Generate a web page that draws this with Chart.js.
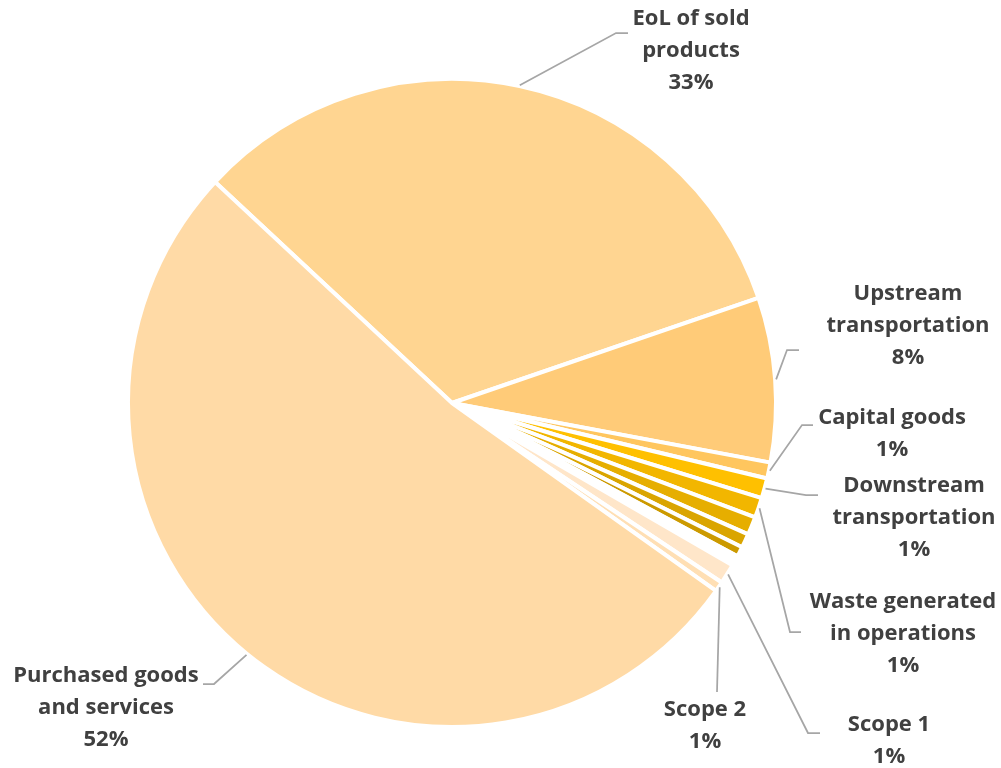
<!DOCTYPE html>
<html>
<head>
<meta charset="utf-8">
<script src="https://cdn.jsdelivr.net/npm/chart.js"></script>
<style>
  html,body{margin:0;padding:0;background:#fff}
  #wrap{width:1001px;height:768px;position:relative}
</style>
</head>
<body>
<div id="wrap"><canvas id="pie" width="1001" height="768"></canvas></div>
<script>
// slices, clockwise starting from EoL
const categories = [
  'EoL of sold products', 'Upstream transportation', 'Capital goods',
  'Downstream transportation', 'Waste generated in operations',
  'Other 1', 'Other 2', 'Other 3', 'Other 4',
  'Scope 1', 'Scope 2', 'Purchased goods and services'
];
const shares = [32.8, 8.2, 0.8, 1.0, 1.0, 0.9, 0.7, 0.5, 0.5, 1.0, 0.5, 52.1];
// label text lines (null = slice has no label)
const labelLines = [
  ['EoL of sold', 'products'], ['Upstream', 'transportation'], ['Capital goods'],
  ['Downstream', 'transportation'], ['Waste generated', 'in operations'],
  null, null, null, null,
  ['Scope 1'], ['Scope 2'], ['Purchased goods', 'and services']
];
const colors = [
  '#FFD591', '#FFCB78', '#FFC65E', '#FFC000', '#F2B600', '#E6AE00', '#DAA500', '#CC9A00',
  '#FFFFFF', '#FFE6C9', '#FFDFB4', '#FFDAA6'
];

/* where each label and its leader elbow sits */
const labelPos = [
  {cx:691, y:19,  ex:616, ey:33,  hx:628},
  {cx:908, y:294, ex:787, ey:350, hx:799},
  {cx:892, y:418, ex:802, ey:425, hx:813},
  {cx:914, y:486, ex:806, ey:495, hx:818},
  {cx:903, y:602, ex:790, ey:632, hx:801},
  null, null, null, null,
  {cx:889, y:725, ex:808, ey:733, hx:820},
  {cx:705, y:710, ex:717, ey:692, hx:717},
  {cx:106, y:676, ex:214, ey:684, hx:203}
];

const total = shares.reduce((a,b)=>a+b,0);

const labelPlugin = {
  id:'outLabels',
  afterDraw(chart){
    const ctx = chart.ctx;
    const arcs = chart.getDatasetMeta(0).data;
    ctx.save();
    arcs.forEach((arc,i)=>{
      const p = labelPos[i];
      if(!p || !labelLines[i]) return;
      const mid = (arc.startAngle + arc.endAngle)/2;
      const r = arc.outerRadius + 1;
      const sx = arc.x + Math.cos(mid)*r, sy = arc.y + Math.sin(mid)*r;
      ctx.strokeStyle = '#A6A6A6';
      ctx.lineWidth = 1.75;
      ctx.beginPath();
      ctx.moveTo(sx, sy);
      ctx.lineTo(p.ex, p.ey);
      ctx.lineTo(p.hx, p.ey);
      ctx.stroke();

      const lines = labelLines[i].concat([Math.round(shares[i]/total*100) + '%']);
      ctx.fillStyle = '#404040';
      ctx.font = 'bold 22px "Open Sans", Lato, sans-serif';
      ctx.textAlign = 'center';
      ctx.textBaseline = 'middle';
      lines.forEach((t,k)=> ctx.fillText(t, p.cx, p.y + k*32));
    });
    ctx.restore();
  }
};

new Chart(document.getElementById('pie'),{
  type:'pie',
  data:{
    labels:categories,
    datasets:[{
      data:shares,
      backgroundColor:colors,
      borderColor:'#FFFFFF',
      borderWidth:4
    }]
  },
  options:{
    responsive:false,
    animation:false,
    rotation:313,
    layout:{ padding:{left:126, right:223, top:77, bottom:39} },
    plugins:{ legend:{display:false}, tooltip:{enabled:false} }
  },
  plugins:[labelPlugin]
});
</script>
</body>
</html>
